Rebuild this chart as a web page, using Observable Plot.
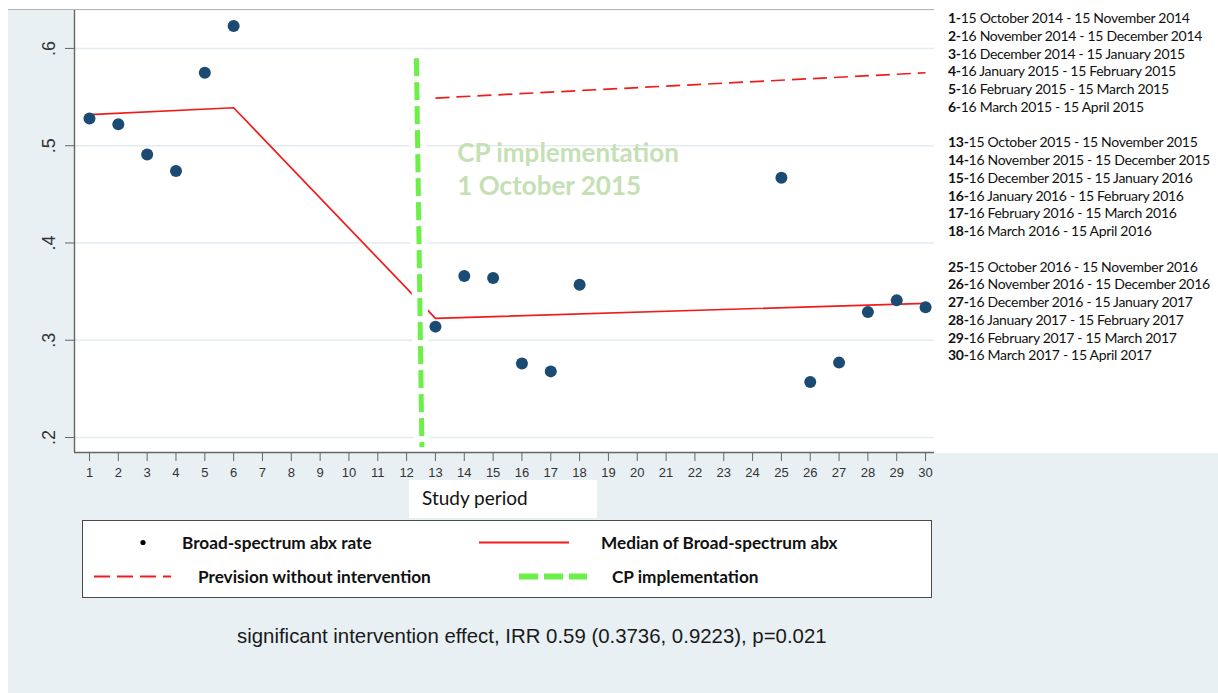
<!DOCTYPE html>
<html>
<head>
<meta charset="utf-8">
<script src="https://cdn.jsdelivr.net/npm/d3@7"></script>
<script src="https://cdn.jsdelivr.net/npm/@observablehq/plot@0.6"></script>
<style>
  html, body { margin: 0; padding: 0; background: #ffffff; }
  #root { position: relative; width: 1218px; height: 693px; overflow: hidden; background: #ffffff; font-family: Lato, "Open Sans", sans-serif; }
  .abs { position: absolute; }
  #bg { left: 8px; top: 10px; width: 1210px; height: 683px; background: #e8f0f3; }
  #rightwhite { left: 934px; top: 0px; width: 284px; height: 453px; background: #ffffff; }
  #topline { left: 8px; top: 9px; width: 926px; height: 1px; background: #b4b4b4; }
  #chart { left: 0px; top: 0px; }
  #study { left: 409px; top: 480px; width: 188px; height: 38px; background: #ffffff; }
  #study span { position: absolute; left: 13px; top: 6px; font-size: 19px; line-height: 23px; color: #111; white-space: nowrap; }
  #legend { left: 82px; top: 520px; width: 848px; height: 76px; background: #ffffff; border: 1.5px solid #4a4a4a; }
  .leglabel { position: absolute; font-weight: bold; font-size: 17.2px; line-height: 21px; color: #111; white-space: nowrap; }
  #caption { left: 237px; top: 624px; font-family: "Liberation Sans", Arial, sans-serif; font-size: 20.4px; line-height: 24px; color: #1a1a1a; white-space: nowrap; }
  #list { left: 948px; top: 9px; font-size: 14px; letter-spacing: -0.3px; color: #111; line-height: 17.75px; white-space: nowrap; }
  #list .gap { height: 17.75px; }
</style>
</head>
<body>
<div id="root">
  <div id="bg" class="abs"></div>
  <div id="rightwhite" class="abs"></div>
  <div id="topline" class="abs"></div>
  <div id="chart" class="abs"></div>
  <div id="study" class="abs"><span>Study period</span></div>
  <div id="legend" class="abs"></div>
  <div id="caption" class="abs"></div>
  <div id="list" class="abs"></div>
</div>
<script>
// ---------- data ----------
const periods = [1, 2, 3, 4, 5, 6, 13, 14, 15, 16, 17, 18, 25, 26, 27, 28, 29, 30];
const rates   = [0.528, 0.522, 0.491, 0.474, 0.575, 0.623, 0.314, 0.366, 0.364, 0.276, 0.268, 0.357, 0.467, 0.257, 0.277, 0.329, 0.341, 0.334];

const medianX = [1, 6, 13, 30];
const medianY = [0.532, 0.539, 0.3225, 0.338];

const previsionX = [13, 30];
const previsionY = [0.549, 0.575];

const cpX = [12.34, 12.53];
const cpY = [0.59, 0.19];

const xTicks = [1,2,3,4,5,6,7,8,9,10,11,12,13,14,15,16,17,18,19,20,21,22,23,24,25,26,27,28,29,30];
const yTicks = [0.2, 0.3, 0.4, 0.5, 0.6];
const yTickLabels = [".2", ".3", ".4", ".5", ".6"];

const annoLines = ["CP implementation", "1 October 2015"];
const annoX = [13.76, 13.76];
const annoY = [0.492, 0.458];

const listNums = ["1","2","3","4","5","6", "13","14","15","16","17","18", "25","26","27","28","29","30"];
const listTexts = [
  "15 October 2014 - 15 November 2014",
  "16 November 2014 - 15 December 2014",
  "16 December 2014 - 15 January 2015",
  "16 January 2015 - 15 February 2015",
  "16 February 2015 - 15 March 2015",
  "16 March 2015 - 15 April 2015",
  "15 October 2015 - 15 November 2015",
  "16 November 2015 - 15 December 2015",
  "16 December 2015 - 15 January 2016",
  "16 January 2016 - 15 February 2016",
  "16 February 2016 - 15 March 2016",
  "16 March 2016 - 15 April 2016",
  "15 October 2016 - 15 November 2016",
  "16 November 2016 - 15 December 2016",
  "16 December 2016 - 15 January 2017",
  "16 January 2017 - 15 February 2017",
  "16 February 2017 - 15 March 2017",
  "16 March 2017 - 15 April 2017"
];

const legendLabels = ["Broad-spectrum abx rate", "Median of Broad-spectrum abx", "Prevision without intervention", "CP implementation"];
const captionText = "significant intervention effect, IRR 0.59 (0.3736, 0.9223), p=0.021";
const xAxisTitle = "Study period";

// ---------- colors ----------
const RED = "#f01c1c";
const GREEN = "#6cf049";
const NAVY = "#1b4a73";

// ---------- tables ----------
const points = periods.map((p, i) => ({period: p, rate: rates[i]}));
const median = medianX.map((x, i) => ({x, y: medianY[i]}));
const prevision = previsionX.map((x, i) => ({x, y: previsionY[i]}));
const cpLine = [{x1: cpX[0], y1: cpY[0], x2: cpX[1], y2: cpY[1]}];
const yLab = yTicks.map((v, i) => ({v, label: yTickLabels[i]}));
const anno = annoLines.map((t, i) => ({t, x: annoX[i], y: annoY[i]}));

const xDomain = [0.48, 30.31];
const yDomain = [0.1846, 0.639];

const chart = Plot.plot({
  width: 935,
  height: 490,
  marginLeft: 74,
  marginRight: 1,
  marginTop: 10,
  marginBottom: 38,
  x: {domain: xDomain},
  y: {domain: yDomain},
  style: {background: "transparent", fontFamily: "'Liberation Sans', Arial, sans-serif", color: "#333"},
  marks: [
    Plot.frame({fill: "#ffffff", stroke: null}),
    Plot.ruleY(yTicks, {stroke: "#e3ecf1", strokeWidth: 1.5}),
    Plot.line(median, {x: "x", y: "y", stroke: RED, strokeWidth: 1.7}),
    Plot.link(cpLine, {x1: "x1", y1: "y1", x2: "x2", y2: "y2", stroke: "#ffffff", strokeWidth: 16, strokeLinecap: "butt"}),
    Plot.link(cpLine, {x1: "x1", y1: "y1", x2: "x2", y2: "y2", stroke: GREEN, strokeWidth: 5, strokeDasharray: "18,6", strokeLinecap: "butt"}),
    Plot.line(prevision, {x: "x", y: "y", stroke: RED, strokeWidth: 1.7, strokeDasharray: "14,7", strokeLinecap: "butt"}),
    Plot.dot(points, {x: "period", y: "rate", r: 6, fill: NAVY, stroke: null}),
    Plot.text(anno, {x: "x", y: "y", text: "t", textAnchor: "start", fill: "#c5e0b4", fontSize: 26, fontWeight: "bold", fontFamily: "Lato, 'Open Sans', sans-serif"}),
    Plot.ruleX([xDomain[0]], {stroke: "#666", strokeWidth: 1.4}),
    Plot.ruleY([yDomain[0]], {stroke: "#666", strokeWidth: 1.4}),
    Plot.axisX({ticks: xTicks, tickSize: 9, tickPadding: 6, fontSize: 13, stroke: "#666", tickFormat: d => String(d), label: null, color: "#333"}),
    Plot.axisY({ticks: yTicks, tickSize: 9, tickFormat: () => "", stroke: "#666", label: null}),
    Plot.text(yLab, {y: "v", text: "label", frameAnchor: "left", dx: -20, rotate: -90, textAnchor: "middle", lineAnchor: "bottom", fontSize: 18, fill: "#333"})
  ]
});
document.getElementById("chart").appendChild(chart);

// ---------- right list ----------
const list = document.getElementById("list");
listNums.forEach((n, i) => {
  if (i === 6 || i === 12) {
    const g = document.createElement("div"); g.className = "gap"; list.appendChild(g);
  }
  const d = document.createElement("div");
  const b = document.createElement("b"); b.textContent = n + "-";
  d.appendChild(b);
  d.appendChild(document.createTextNode(listTexts[i]));
  list.appendChild(d);
});

// ---------- legend ----------
const legend = document.getElementById("legend");
legend.innerHTML = `
<svg width="848" height="76" style="position:absolute;left:0;top:0">
  <circle cx="60" cy="21.5" r="2.6" fill="#000"/>
  <line x1="396" x2="486" y1="21.5" y2="21.5" stroke="${RED}" stroke-width="2"/>
  <line x1="11" x2="88" y1="55.5" y2="55.5" stroke="${RED}" stroke-width="2" stroke-dasharray="16,7"/>
  <line x1="436" x2="504" y1="55.5" y2="55.5" stroke="${GREEN}" stroke-width="6" stroke-dasharray="19,6"/>
</svg>`;
const legPos = [[99, 11], [518, 11], [115, 45], [529, 45]];
legendLabels.forEach((t, i) => {
  const s = document.createElement("div");
  s.className = "leglabel";
  s.style.left = legPos[i][0] + "px";
  s.style.top = legPos[i][1] + "px";
  s.textContent = t;
  legend.appendChild(s);
});

document.getElementById("caption").textContent = captionText;
document.querySelector("#study span").textContent = xAxisTitle;
</script>
</body>
</html>
